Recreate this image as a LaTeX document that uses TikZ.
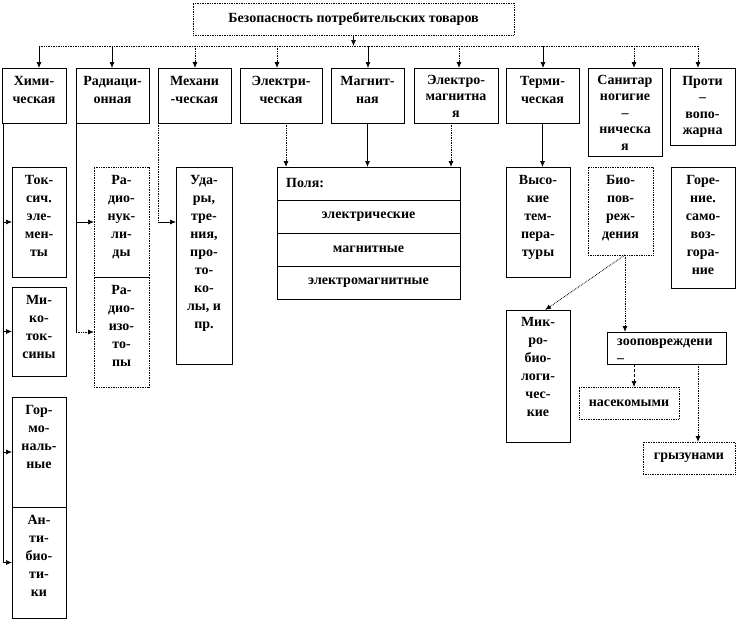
\documentclass[tikz,border=0pt]{standalone}
\usepackage{fontspec}
\setmainfont{Liberation Serif}
\usetikzlibrary{arrows.meta,positioning}
\begin{document}
\begin{tikzpicture}[x=1pt,y=-1pt,
  box/.style={draw=black,line width=0.7pt,inner sep=0pt,outer sep=0pt,fill=white},
  dbox/.style={box,densely dotted},
  lbl/.style={anchor=north,inner sep=0pt,align=center,font=\bfseries\fontsize{14}{18}\selectfont},
  tight/.style={font=\bfseries\fontsize{14}{16.5}\selectfont},
  txt/.style={inner sep=0pt,font=\bfseries\fontsize{14}{18}\selectfont},
  conn/.style={draw=black,line width=0.7pt},
  arr/.style={conn,-{Latex[length=6pt,width=5pt]}},
  dots/.style={densely dotted,line width=0.9pt}]
\useasboundingbox (0,0) rectangle (738,621);
\fill[white] (0,0) rectangle (738,621);
% top
\node[dbox,minimum width=321pt,minimum height=32pt] (top) at (353.5,19) {};
\node[txt] at (top.center) {Безопасность потребительских товаров};
% headers
\node[box,minimum width=64pt,minimum height=55pt] (chem) at (34,95.5) {};
\node[lbl] at ([yshift=-8pt]chem.north) {Хими-\\ческая};
\node[box,minimum width=73pt,minimum height=55pt] (rad) at (112.5,95.5) {};
\node[lbl] at ([yshift=-8pt]rad.north) {Радиаци-\\онная};
\node[box,minimum width=73pt,minimum height=55pt] (mech) at (194.5,95.5) {};
\node[lbl] at ([yshift=-8pt]mech.north) {Механи\\-ческая};
\node[box,minimum width=82pt,minimum height=55pt] (elec) at (281,95.5) {};
\node[lbl] at ([yshift=-8pt]elec.north) {Электри-\\ческая};
\node[box,minimum width=73pt,minimum height=55pt] (mag) at (367.5,95.5) {};
\node[lbl] at ([yshift=-8pt]mag.north) {Магнит-\\ная};
\node[box,minimum width=84pt,minimum height=55pt] (em) at (456,95.5) {};
\node[lbl,tight] at ([yshift=-7pt]em.north) {Электро-\\магнитна\\я};
\node[box,minimum width=73pt,minimum height=55pt] (therm) at (542.5,95.5) {};
\node[lbl] at ([yshift=-8pt]therm.north) {Терми-\\ческая};
\node[box,minimum width=74pt,minimum height=88pt] (san) at (625,112) {};
\node[lbl,tight] at ([yshift=-7pt]san.north) {Санитар\\ногигие\\–\\ническа\\я};
\node[box,minimum width=65pt,minimum height=77pt] (prot) at (702.5,106.5) {};
\node[lbl,tight] at ([yshift=-8pt]prot.north) {Проти\\–\\вопо-\\жарна};
% second row
\node[box,minimum width=54pt,minimum height=110pt] (tox) at (39,222) {};
\node[lbl] at ([yshift=-8pt]tox.north) {Ток-\\сич.\\эле-\\мен-\\ты};
\node[box,minimum width=54pt,minimum height=89pt] (myco) at (39,331.5) {};
\node[lbl] at ([yshift=-8pt]myco.north) {Ми-\\ко-\\ток-\\сины};
\node[box,minimum width=54pt,minimum height=110pt] (horm) at (39,452) {};
\node[lbl] at ([yshift=-8pt]horm.north) {Гор-\\мо-\\наль-\\ные};
\node[box,minimum width=54pt,minimum height=111pt] (anti) at (39,562.5) {};
\node[lbl] at ([yshift=-8pt]anti.north) {Ан-\\ти-\\био-\\ти-\\ки};
\node[dbox,minimum width=55pt,minimum height=110pt] (nucl) at (121.5,222) {};
\node[lbl] at ([yshift=-8pt]nucl.north) {Ра-\\дио-\\нук-\\ли-\\ды};
\node[dbox,minimum width=55pt,minimum height=110pt] (iso) at (121.5,332) {};
\node[lbl] at ([yshift=-8pt]iso.north) {Ра-\\дио-\\изо-\\то-\\пы};
\draw[line width=0.7pt] (nucl.south west) -- (nucl.south east);
\node[box,minimum width=56pt,minimum height=197pt] (udar) at (204,265.5) {};
\node[lbl] at ([yshift=-8pt]udar.north) {Уда-\\ры,\\тре-\\ния,\\про-\\то-\\ко-\\лы, и\\пр.};
% fields
\node[box,minimum width=183pt,minimum height=33pt] (pole1) at (368.5,183.5) {};
\node[txt,anchor=west] at ([xshift=9pt]pole1.west) {Поля:};
\node[box,minimum width=183pt,minimum height=33pt,txt] (pole2) at (368.5,216.5) {электрические};
\node[box,minimum width=183pt,minimum height=33pt,txt] (pole3) at (368.5,249.5) {магнитные};
\node[box,minimum width=183pt,minimum height=33pt,txt] (pole4) at (368.5,282.5) {электромагнитные};
\draw[dots] (pole1.north west) -- (pole4.south west) -- (pole4.south east);
% right
\node[box,minimum width=64pt,minimum height=110pt] (vys) at (538,222) {};
\node[lbl] at ([yshift=-8pt]vys.north) {Высо-\\кие\\тем-\\пера-\\туры};
\node[dbox,minimum width=65pt,minimum height=88pt] (bio) at (620.5,211) {};
\node[lbl] at ([yshift=-8pt]bio.north) {Био-\\пов-\\реж-\\дения};
\node[box,minimum width=64pt,minimum height=121pt] (gor) at (703,227.5) {};
\node[lbl] at ([yshift=-8pt]gor.north) {Горе-\\ние.\\само-\\воз-\\гора-\\ние};
\node[box,minimum width=64pt,minimum height=132pt] (micro) at (538,376) {};
\node[lbl] at ([yshift=-7pt]micro.north) {Мик-\\ро-\\био-\\логи-\\чес-\\кие};
\node[box,minimum width=119pt,minimum height=32pt] (zoo) at (666.5,348) {};
\node[lbl,anchor=north west,align=left,tight] at ([xshift=10pt,yshift=-7pt]zoo.north west) {зооповреждени\\–};
\node[dbox,minimum width=100pt,minimum height=32pt,txt] (ins) at (629,403) {насекомыми};
\node[dbox,minimum width=92pt,minimum height=32pt,txt] (gryz) at (689,458) {грызунами};
% bus
\coordinate (tchem) at (39,46);
\coordinate (trad) at (112,46);
\coordinate (tmech) at (195,46);
\coordinate (telec) at (277,46);
\coordinate (tmag) at (368,46);
\coordinate (tem) at (459,46);
\coordinate (ttherm) at (543,46);
\coordinate (tsan) at (634,46);
\coordinate (tprot) at (698,46);
\draw[arr] (top.south) -- (top.south |- tchem);
\draw[conn,dots] (tchem) -- (tprot);
\draw[arr] (tchem) -- (tchem |- chem.north);
\draw[arr] (trad) -- (trad |- rad.north);
\draw[arr,dots] (tmech) -- (tmech |- mech.north);
\draw[arr,dots] (telec) -- (telec |- elec.north);
\draw[arr] (tmag) -- (tmag |- mag.north);
\draw[arr,dots] (tem) -- (tem |- em.north);
\draw[arr] (ttherm) -- (ttherm |- therm.north);
\draw[arr,dots] (tsan) -- (tsan |- san.north);
\draw[arr,dots] (tprot) -- (tprot |- prot.north);
% chemical
\draw[conn] ([xshift=1pt]chem.south west) -- ([xshift=1pt]chem.south west |- anti.west);
\draw[arr] ([xshift=1pt]chem.south west |- tox.west) -- (tox.west);
\draw[arr] ([xshift=1pt]chem.south west |- myco.west) -- (myco.west);
\draw[arr] ([xshift=1pt]chem.south west |- horm.west) -- (horm.west);
\draw[arr] ([xshift=1pt]chem.south west |- anti.west) -- (anti.west);
% radiation
\draw[conn] (rad.south west) -- (rad.south west |- iso.west);
\draw[arr] (rad.south west |- nucl.west) -- (nucl.west);
\draw[arr,dots] (rad.south west |- iso.west) -- (iso.west);
% mechanical
\draw[conn,dots] (mech.south west) -- (mech.south west |- tox.west);
\draw[arr] (mech.south west |- tox.west) -- (udar.west |- tox.west);
% fields
\coordinate (e1) at (286,123);
\coordinate (e3) at (451,123);
\draw[arr,dots] (e1) -- (e1 |- pole1.north);
\draw[arr] (mag.south) -- (mag.south |- pole1.north);
\draw[arr,dots] (e3) -- (e3 |- pole1.north);
% thermal
\draw[arr] (therm.south) -- (therm.south |- vys.north);
% bio
\coordinate (b1) at (625,255);
\coordinate (m1) at (545,310);
\draw[arr,dots] (b1) -- (m1);
\draw[arr,dots] (b1) -- (b1 |- zoo.north);
\coordinate (z1) at (634,364);
\coordinate (z2) at (698,364);
\draw[arr,densely dashed] (z1) -- (z1 |- ins.north);
\draw[arr,dots] (z2) -- (z2 |- gryz.north);
\end{tikzpicture}
\end{document}
